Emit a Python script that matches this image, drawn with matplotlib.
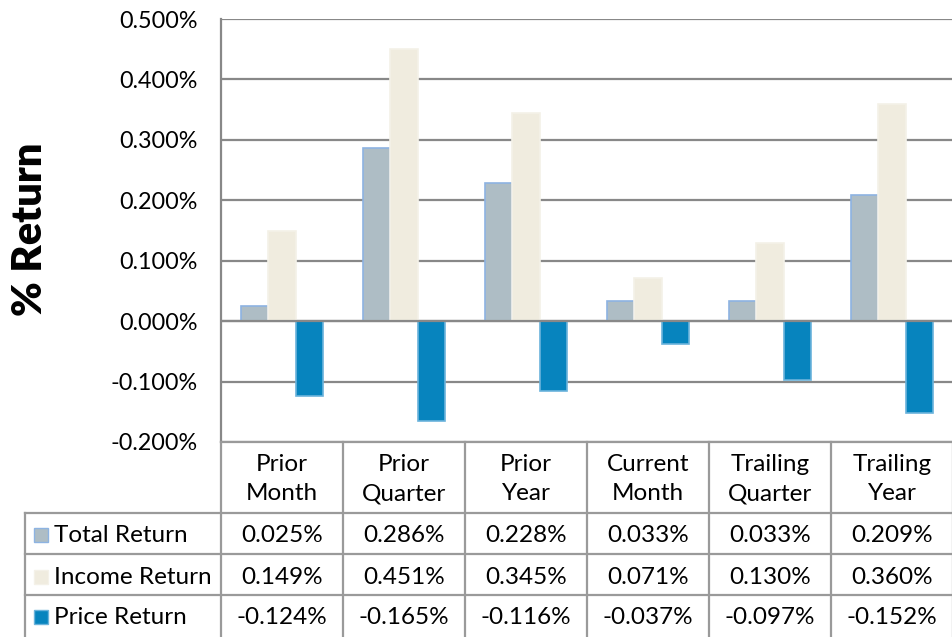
import matplotlib.pyplot as plt
import numpy as np

plt.rcParams['font.family'] = ['Lato', 'DejaVu Sans']

# data
categories = ['Prior\nMonth', 'Prior\nQuarter', 'Prior\nYear', 'Current\nMonth', 'Trailing\nQuarter', 'Trailing\nYear']
series_names = ['Total Return', 'Income Return', 'Price Return']
total_return = [0.025, 0.286, 0.228, 0.033, 0.033, 0.209]
income_return = [0.149, 0.451, 0.345, 0.071, 0.130, 0.360]
price_return = [-0.124, -0.165, -0.116, -0.037, -0.097, -0.152]
yticks = [-0.2, -0.1, 0.0, 0.1, 0.2, 0.3, 0.4, 0.5]

fills = ['#AEBDC5', '#F0ECDF', '#0784BE']
edges = ['#8DB3E2', '#F4F1E8', '#6BB3DB']

W, H = 953, 637
fig = plt.figure(figsize=(W / 100, H / 100), dpi=100)
L, R, T, B = 221, 953, 19, 442
ax = fig.add_axes([L / W, (H - B) / H, (R - L) / W, (B - T) / H])

x = np.arange(len(categories))
bw = 0.225
grid_c = '#888888'
fs = 16.8
fs_tbl = 17.5
for k, vals in enumerate([total_return, income_return, price_return]):
    ax.bar(x + (k - 1) * bw, vals, bw, color=fills[k], edgecolor=edges[k], linewidth=1.2, zorder=3)

ax.set_xlim(-0.5, len(categories) - 0.5)
ax.set_ylim(-0.2, 0.5)
ax.set_yticks(yticks)
ax.set_yticklabels(['%.3f%%' % v for v in yticks], fontsize=fs)
ax.yaxis.grid(True, color=grid_c, linewidth=1.6, zorder=1)
ax.axhline(0, color=grid_c, linewidth=1.6, zorder=4)
ax.set_xticks([])
ax.tick_params(axis='y', length=0, pad=17)
for s in ['top', 'right', 'bottom']:
    ax.spines[s].set_visible(False)
ax.spines['left'].set_color(grid_c)
ax.spines['left'].set_linewidth(1.6)

fig.text(30 / W, 1 - 229 / H, '% Return', rotation=90, fontsize=30, fontweight='heavy',
         ha='center', va='center')

# data table below the axes (pixel coordinates on the figure)
def fx(px):
    return px / W

def fy(py):
    return 1 - py / H

tbl_c = '#9A9A9A'
row_lines = [442, 513, 554, 595]
for i, py in enumerate(row_lines):
    x0 = L if i == 0 else 25
    fig.add_artist(plt.Line2D([fx(x0), 1], [fy(py), fy(py)], color=tbl_c, lw=1.6))
fig.add_artist(plt.Line2D([fx(25), fx(25)], [fy(513), 0], color=tbl_c, lw=1.6))
cw = (R - L) / len(categories)
for i in range(len(categories) + 1):
    px = L + i * cw
    fig.add_artist(plt.Line2D([fx(px), fx(px)], [fy(442), 0], color=tbl_c, lw=1.6))

for i, c in enumerate(categories):
    fig.text(fx(L + (i + 0.5) * cw), fy(479), c, ha='center', va='center', fontsize=fs_tbl, linespacing=1.5)

rows = [total_return, income_return, price_return]
row_centers = [535, 577, 617]
for r, vals in enumerate(rows):
    yc = fy(row_centers[r])
    fig.add_artist(plt.Rectangle((fx(34), yc - 7 / H), 14 / W, 14 / H, facecolor=fills[r],
                                 edgecolor=edges[r], lw=1))
    fig.text(fx(54), yc, series_names[r], ha='left', va='center', fontsize=fs_tbl)
    for i, v in enumerate(vals):
        fig.text(fx(L + (i + 0.5) * cw), yc, '%.3f%%' % v, ha='center', va='center', fontsize=fs_tbl)

fig.savefig('out.png', dpi=100)
